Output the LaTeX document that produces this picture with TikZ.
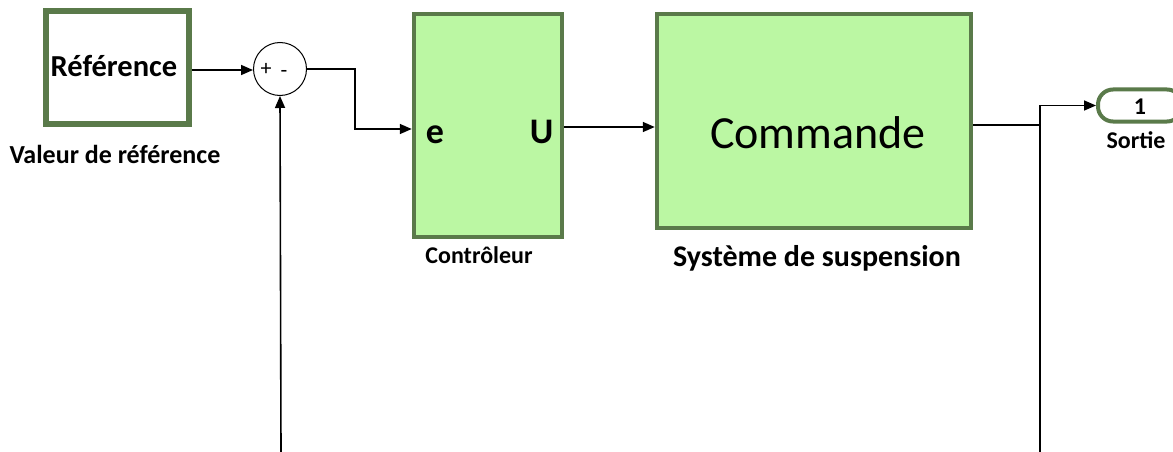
\documentclass[tikz,border=0pt]{standalone}
\usepackage{fontspec}
\setmainfont{Carlito}
\usetikzlibrary{arrows.meta}

\definecolor{blockedge}{RGB}{90,122,74}
\definecolor{blockfill}{RGB}{187,247,163}

\begin{document}
\begin{tikzpicture}[x=1pt,y=-1pt,
  sig/.style={line width=1.6pt, -{Triangle[length=12pt,width=10pt]}},
  wire/.style={line width=1.6pt},
  refbox/.style={draw=blockedge, line width=5.5pt, fill=white, minimum width=143pt, minimum height=113pt, inner sep=0pt},
  greenbox/.style={draw=blockedge, line width=4.5pt, fill=blockfill, inner sep=0pt},
  sumnode/.style={draw, circle, line width=1pt, minimum size=53pt, inner sep=0pt},
  portbox/.style={draw=blockedge, line width=4pt, fill=white, rounded corners=15pt, minimum width=84pt, minimum height=32pt, inner sep=0pt},
  lbl/.style={anchor=base, inner sep=0pt},
  signtxt/.style={font=\fontsize{22}{24}\selectfont, inner sep=0pt}
]
\clip (0,0) rectangle (1173,452);
\useasboundingbox (0,0) rectangle (1173,452);

% reference source
\node[refbox] (ref) at (117.5,67.5) {};
\node[lbl, font=\fontsize{30.5}{34}\selectfont\bfseries] at (114,77) {Référence};
\node[lbl, font=\fontsize{26}{30}\selectfont\bfseries] at (115,163) {Valeur de référence};

% summing junction
\node[sumnode] (sum) at (280,69) {};
\node[signtxt] at (266,69) {+};
\node[signtxt] at (284,74) {-};

% controller
\node[greenbox, minimum width=148pt, minimum height=223pt] (ctrl) at (488,125.5) {};
\node[lbl, font=\fontsize{36}{40}\selectfont\bfseries] at (435,143) {e};
\node[lbl, font=\fontsize{36}{40}\selectfont\bfseries] at (541.5,143) {U};
\node[lbl, font=\fontsize{24}{28}\selectfont\bfseries] at (479,263) {Contrôleur};

% plant
\node[greenbox, minimum width=314pt, minimum height=214pt] (plant) at (814,121) {};
\node[lbl, font=\fontsize{46}{50}\selectfont] at (818,148) {Commande};
\node[lbl, font=\fontsize{30}{34}\selectfont\bfseries] at (817,266) {Système de suspension};

% output port
\node[portbox] (out) at (1140,105.5) {};
\node[lbl, font=\fontsize{24}{28}\selectfont\bfseries] at (1140,114) {1};
\node[lbl, font=\fontsize{24}{28}\selectfont\bfseries] at (1136,148) {Sortie};

% branch point and loose ends
\coordinate (split) at (1040,125);
\coordinate (splitbot) at (1040,452);
\coordinate (fbbot) at (281,452);
\coordinate (bend1) at (355,69);
\coordinate (bend2) at (355,129);

% signal lines
\draw[sig] (ref.east |- 0,70) -- (sum.west |- 0,70);
\draw[sig] (sum.east) -- (bend1) -- (bend2) -- (ctrl.west |- bend2);
\draw[sig] (ctrl.east |- 0,127) -- (plant.west |- 0,127);
\draw[wire] (plant.east |- split) -- (split);
\draw[sig] (splitbot) -- (split) |- (out.west);
\draw[sig] (fbbot) -- (sum.south);
\end{tikzpicture}
\end{document}
